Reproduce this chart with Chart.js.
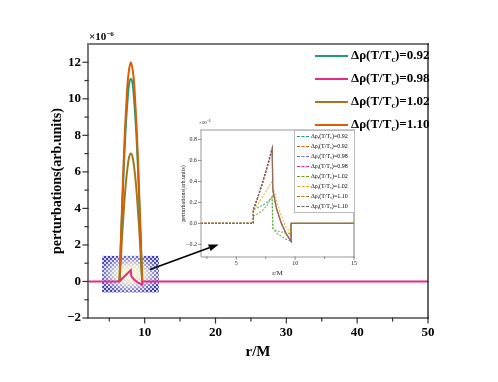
<!DOCTYPE html>
<html>
<head>
<meta charset="utf-8">
<script src="https://cdn.jsdelivr.net/npm/chart.js@4"></script>
<style>
  html, body { margin: 0; padding: 0; background: #fff; }
  #wrap { position: relative; width: 498px; height: 382px; overflow: hidden;
          font-family: "Liberation Serif", "Times New Roman", serif; }
  #main { position: absolute; left: 0; top: 0; }
  #inset { position: absolute; left: 175px; top: 116px; background: #fff; }
  #arrow { position: absolute; left: 0; top: 0; pointer-events: none; }
  .txt { position: absolute; white-space: nowrap; color: #000; }
  .mainLeg { font-weight: bold; font-size: 13px; line-height: 16px; }
  .mainLeg sub { font-size: 8px; vertical-align: -3px; }
  .swatch { position: absolute; height: 2px; }
  #insetLeg { position: absolute; left: 294px; top: 130px; width: 59px; height: 81px;
              border: 1px solid #bbb; background: #fff; }
  .iLeg { font-size: 6px; line-height: 8px; }
  .iLeg sub { font-size: 4px; vertical-align: -1px; }
  .iSw { position: absolute; width: 12px; border-top: 1px dashed; }
  sup { font-size: 0.65em; vertical-align: 0.5em; }
</style>
</head>
<body>
<div id="wrap">
  <canvas id="main" width="498" height="382"></canvas>
  <canvas id="inset" width="185" height="164"></canvas>
  <div id="mainLegend"></div>
  <div id="insetLeg"></div>
  <div class="txt" style="left:89px;top:30px;font-size:11px;font-weight:bold;">×10<sup>−6</sup></div>
  <div class="txt" style="left:199px;top:119px;font-size:5px;">×10<sup>−6</sup></div>
  <canvas id="arrow" width="498" height="382"></canvas>
</div>
<script>
const FONT = '"Liberation Serif", "Times New Roman", serif';

// main chart data (values in units of 1e-6)
const bumpR  = [6.45, 6.6, 6.8, 7.0, 7.2, 7.4, 7.6, 7.8, 8.05, 8.3, 8.5, 8.7, 8.9, 9.1, 9.3, 9.5, 9.65];
const rho092 = [0, 1.6, 3.7, 5.7, 7.5, 8.9, 10.0, 10.8, 11.1, 10.8, 10.0, 8.9, 7.5, 5.7, 3.7, 1.6, 0];
const rho102 = [0, 1.0, 2.4, 3.6, 4.7, 5.6, 6.3, 6.8, 7.0, 6.8, 6.3, 5.6, 4.7, 3.6, 2.4, 1.0, 0];
const rho110 = [0, 1.8, 4.0, 6.2, 8.1, 9.6, 10.9, 11.6, 12.0, 11.6, 10.9, 9.6, 8.1, 6.2, 4.0, 1.8, 0];
const r098   = [2, 6.45, 6.8, 7.2, 7.6, 8.05, 8.1, 8.5, 9.0, 9.65, 9.65, 50];
const rho098 = [0, 0, 0.15, 0.3, 0.45, 0.62, 0.3, 0.1, -0.05, -0.17, 0, 0];

const mainLabels = ['0.92', '0.98', '1.02', '1.10'];
const mainColors = ['#1b9e77', '#e7298a', '#a6761d', '#d95f02'];

const xTicks = [10, 20, 30, 40, 50];
const xMinor = [5, 15, 25, 35, 45];
const yTicks = [-2, 0, 2, 4, 6, 8, 10, 12];
const yMinor = [-1, 1, 3, 5, 7, 9, 11];

// inset data
const insetR = [2, 6.45, 6.45, 6.8, 7.2, 7.6, 8.05, 8.1, 8.4, 8.8, 9.2, 9.65, 9.65, 15];
const dr092 = [0, 0, 0.13, 0.15, 0.17, 0.20, 0.25, -0.04, -0.09, -0.12, -0.15, -0.17, 0, 0];
const dt092 = [0, 0, 0.13, 0.24, 0.38, 0.53, 0.71, 0.32, 0.15, 0.01, -0.09, -0.17, 0, 0];
const dr098 = [0, 0, 0.13, 0.24, 0.37, 0.52, 0.70, 0.32, 0.15, 0.01, -0.09, -0.17, 0, 0];
const dt098 = [0, 0, 0.13, 0.24, 0.38, 0.53, 0.71, 0.31, 0.14, 0.00, -0.10, -0.17, 0, 0];
const dr102 = [0, 0, 0.07, 0.09, 0.12, 0.17, 0.26, -0.05, -0.07, -0.08, -0.09, -0.10, 0, 0];
const dt102 = [0, 0, 0.13, 0.18, 0.25, 0.32, 0.40, 0.36, 0.22, 0.08, -0.03, -0.10, 0, 0];
const dr110 = [0, 0, 0.13, 0.24, 0.38, 0.53, 0.71, 0.32, 0.15, 0.01, -0.09, -0.17, 0, 0];
const dt110 = [0, 0, 0.13, 0.24, 0.38, 0.54, 0.72, 0.33, 0.15, 0.01, -0.09, -0.17, 0, 0];

const insetSeries = [dr092, dt092, dr098, dt098, dr102, dt102, dr110, dt110];
const insetSub = ['r', 't', 'r', 't', 'r', 't', 'r', 't'];
const insetVal = ['0.92', '0.92', '0.98', '0.98', '1.02', '1.02', '1.10', '1.10'];
const insetColors = ['#1b9e77', '#d95f02', '#7570b3', '#e7298a', '#66a61e', '#e6ab02', '#a6761d', '#666666'];
const ixTicks = [5, 10, 15];
const ixMinor = [2.5, 7.5, 12.5];
const iyTicks = [-0.2, 0, 0.2, 0.4, 0.6, 0.8];

function pts(xs, ys) {
  return xs.map((x, i) => ({ x: x, y: ys[i] }));
}

// frame and outward ticks
function frameTicks(o) {
  return {
    id: 'frame',
    afterDraw(chart) {
      const { ctx, chartArea: a, scales } = chart;
      ctx.save();
      ctx.lineCap = 'square';
      ctx.strokeStyle = o.frameColor; ctx.lineWidth = o.frameWidth;
      ctx.beginPath(); ctx.moveTo(a.left, a.top); ctx.lineTo(a.right, a.top); ctx.stroke();
      ctx.beginPath(); ctx.moveTo(a.left, a.top); ctx.lineTo(a.left, a.bottom); ctx.lineTo(a.right, a.bottom); ctx.stroke();
      ctx.strokeStyle = o.rightColor; ctx.lineWidth = o.rightWidth;
      ctx.beginPath(); ctx.moveTo(a.right, a.top); ctx.lineTo(a.right, a.bottom); ctx.stroke();
      ctx.strokeStyle = o.tickColor; ctx.lineWidth = o.tickWidth;
      const tx = (vals, len) => vals.forEach(v => {
        const p = scales.x.getPixelForValue(v);
        ctx.beginPath(); ctx.moveTo(p, a.bottom); ctx.lineTo(p, a.bottom + len); ctx.stroke();
      });
      const ty = (vals, len) => vals.forEach(v => {
        const p = scales.y.getPixelForValue(v);
        ctx.beginPath(); ctx.moveTo(a.left, p); ctx.lineTo(a.left - len, p); ctx.stroke();
      });
      tx(o.xMajor, o.major); tx(o.xMinor, o.minor);
      ty(o.yMajor, o.major); ty(o.yMinor, o.minor);
      ctx.restore();
    }
  };
}

// blue hatched zoom box behind the curves
const zoomBox = {
  id: 'zoomBox',
  beforeDatasetsDraw(chart) {
    const { ctx, scales } = chart;
    const x0 = scales.x.getPixelForValue(4), x1 = scales.x.getPixelForValue(12);
    const y0 = scales.y.getPixelForValue(1.4), y1 = scales.y.getPixelForValue(-0.6);
    const c = document.createElement('canvas'); c.width = 4; c.height = 4;
    const g = c.getContext('2d');
    g.fillStyle = '#d4d4f2'; g.fillRect(0, 0, 4, 4);
    g.fillStyle = '#3c3cb4'; g.fillRect(0, 0, 2, 2); g.fillRect(2, 2, 2, 2);
    ctx.save();
    ctx.fillStyle = ctx.createPattern(c, 'repeat');
    ctx.fillRect(x0, y0, x1 - x0, y1 - y0);
    const cx = (x0 + x1) / 2, cy = (y0 + y1) / 2;
    const sx = (x1 - x0) / 2, sy = (y1 - y0) / 2;
    ctx.beginPath(); ctx.rect(x0, y0, x1 - x0, y1 - y0); ctx.clip();
    ctx.translate(cx, cy); ctx.scale(sx, sy);
    const grad = ctx.createRadialGradient(0, 0, 0, 0, 0, 1.15);
    grad.addColorStop(0, 'rgba(255,255,215,1)');
    grad.addColorStop(0.45, 'rgba(250,250,225,0.85)');
    grad.addColorStop(1, 'rgba(255,255,255,0)');
    ctx.fillStyle = grad;
    ctx.fillRect(-1, -1, 2, 2);
    ctx.restore();
  }
};

const minus = v => (v < 0 ? '−' + Math.abs(v) : String(v));

const mainChart = new Chart(document.getElementById('main'), {
  type: 'line',
  data: {
    datasets: [
      { label: mainLabels[0], data: pts(bumpR, rho092), borderColor: mainColors[0], order: 2, tension: 0.35 },
      { label: mainLabels[1], data: pts(r098, rho098), borderColor: mainColors[1], order: 0, tension: 0 },
      { label: mainLabels[2], data: pts(bumpR, rho102), borderColor: mainColors[2], order: 3, tension: 0.35 },
      { label: mainLabels[3], data: pts(bumpR, rho110), borderColor: mainColors[3], order: 1, tension: 0.35 }
    ]
  },
  options: {
    responsive: false,
    animation: false,
    datasets: { line: { borderWidth: 2, pointRadius: 0, fill: false } },
    layout: { padding: { left: 0, top: 44, right: 70, bottom: 20 } },
    plugins: { legend: { display: false }, tooltip: { enabled: false } },
    scales: {
      x: {
        type: 'linear', min: 2, max: 50,
        afterBuildTicks: s => { s.ticks = xTicks.map(v => ({ value: v })); },
        afterFit: s => { s.height = 44; },
        grid: { display: false, drawTicks: false },
        border: { display: false },
        ticks: { color: '#000', padding: 7, maxRotation: 0, font: { family: FONT, size: 13, weight: 'bold' } },
        title: { display: true, text: 'r/M', color: '#000', padding: { top: 0, bottom: 1 },
                 font: { family: FONT, size: 15, weight: 'bold' } }
      },
      y: {
        min: -2, max: 13,
        afterBuildTicks: s => { s.ticks = yTicks.map(v => ({ value: v })); },
        afterFit: s => { s.width = 88; },
        grid: { display: false, drawTicks: false },
        border: { display: false },
        ticks: { color: '#000', padding: 7, callback: minus, font: { family: FONT, size: 13, weight: 'bold' } },
        title: { display: true, text: 'perturbations(arb.units)', color: '#000', padding: { top: 49, bottom: 0 },
                 font: { family: FONT, size: 14, weight: 'bold' } }
      }
    }
  },
  plugins: [zoomBox, frameTicks({
    frameColor: '#7a7a7a', frameWidth: 2, rightColor: '#000', rightWidth: 1.2,
    tickColor: '#333', tickWidth: 1.2, major: 5, minor: 3,
    xMajor: xTicks, xMinor: xMinor, yMajor: yTicks, yMinor: yMinor
  })]
});

const insetChart = new Chart(document.getElementById('inset'), {
  type: 'line',
  data: {
    datasets: insetSeries.map((ys, i) => ({
      label: insetSub[i] + insetVal[i],
      data: pts(insetR, ys),
      borderColor: insetColors[i] + 'c0',
      borderDash: [2, 1.5],
      order: 7 - i
    }))
  },
  options: {
    responsive: false,
    animation: false,
    datasets: { line: { borderWidth: 1.2, pointRadius: 0, fill: false, tension: 0 } },
    layout: { padding: { left: 0, top: 14, right: 6, bottom: 0 } },
    plugins: { legend: { display: false }, tooltip: { enabled: false } },
    scales: {
      x: {
        type: 'linear', min: 2, max: 15,
        afterBuildTicks: s => { s.ticks = ixTicks.map(v => ({ value: v })); },
        afterFit: s => { s.height = 23; },
        grid: { display: false, drawTicks: false },
        border: { display: false },
        ticks: { color: '#222', padding: 3, maxRotation: 0, font: { family: FONT, size: 6 } },
        title: { display: true, text: 'r/M', color: '#222', padding: { top: 0, bottom: 3 },
                 font: { family: FONT, size: 7 } }
      },
      y: {
        min: -0.32, max: 0.89,
        afterBuildTicks: s => { s.ticks = iyTicks.map(v => ({ value: v })); },
        afterFit: s => { s.width = 26; },
        grid: { display: false, drawTicks: false },
        border: { display: false },
        ticks: { color: '#222', padding: 4, font: { family: FONT, size: 6 },
                 callback: v => (v < 0 ? '−' + Math.abs(v).toFixed(1) : v.toFixed(1)) },
        title: { display: true, text: 'perturbations(arb.units)', color: '#222', padding: { top: 5, bottom: 0 },
                 font: { family: FONT, size: 6 } }
      }
    }
  },
  plugins: [frameTicks({
    frameColor: '#999', frameWidth: 1, rightColor: '#777', rightWidth: 1,
    tickColor: '#777', tickWidth: 0.8, major: 2.5, minor: 1.5,
    xMajor: ixTicks, xMinor: ixMinor, yMajor: iyTicks, yMinor: []
  })]
});

// main legend (HTML so the subscripts stay real text)
const legRows = [56, 79, 102, 125];
const mainLeg = document.getElementById('mainLegend');
mainLabels.forEach((lab, i) => {
  const sw = document.createElement('div');
  sw.className = 'swatch';
  sw.style.cssText = 'left:315px;width:33px;top:' + (legRows[i] - 1) + 'px;background:' + mainColors[i];
  mainLeg.appendChild(sw);
  const t = document.createElement('div');
  t.className = 'txt mainLeg';
  t.style.left = '351px';
  t.style.top = (legRows[i] - 9) + 'px';
  t.innerHTML = 'Δρ(T/T<sub>c</sub>)=' + lab;
  mainLeg.appendChild(t);
});

// inset legend
const iLeg = document.getElementById('insetLeg');
insetSeries.forEach((ys, i) => {
  const y = 5 + i * 10;
  const sw = document.createElement('div');
  sw.className = 'iSw';
  sw.style.cssText = 'left:2px;top:' + y + 'px;border-color:' + insetColors[i];
  iLeg.appendChild(sw);
  const t = document.createElement('div');
  t.className = 'txt iLeg';
  t.style.left = '16px';
  t.style.top = (y - 4) + 'px';
  t.innerHTML = 'Δρ<sub>' + insetSub[i] + '</sub>(T/T<sub>c</sub>)=' + insetVal[i];
  iLeg.appendChild(t);
});

// arrow from the zoom box toward the inset, placed with the main chart's scales
(function () {
  const sx = mainChart.scales.x, sy = mainChart.scales.y;
  const x0 = sx.getPixelForValue(10.75), y0 = sy.getPixelForValue(0.66);
  const x1 = sx.getPixelForValue(20.45), y1 = sy.getPixelForValue(2.03);
  const ctx = document.getElementById('arrow').getContext('2d');
  const ang = Math.atan2(y1 - y0, x1 - x0);
  const hl = 10, hw = 3.5;
  const bx = x1 - hl * Math.cos(ang), by = y1 - hl * Math.sin(ang);
  ctx.strokeStyle = '#000'; ctx.fillStyle = '#000'; ctx.lineWidth = 1.6;
  ctx.beginPath(); ctx.moveTo(x0, y0); ctx.lineTo(bx, by); ctx.stroke();
  ctx.beginPath();
  ctx.moveTo(x1, y1);
  ctx.lineTo(bx + hw * Math.sin(ang), by - hw * Math.cos(ang));
  ctx.lineTo(bx - hw * Math.sin(ang), by + hw * Math.cos(ang));
  ctx.closePath(); ctx.fill();
})();
</script>
</body>
</html>
